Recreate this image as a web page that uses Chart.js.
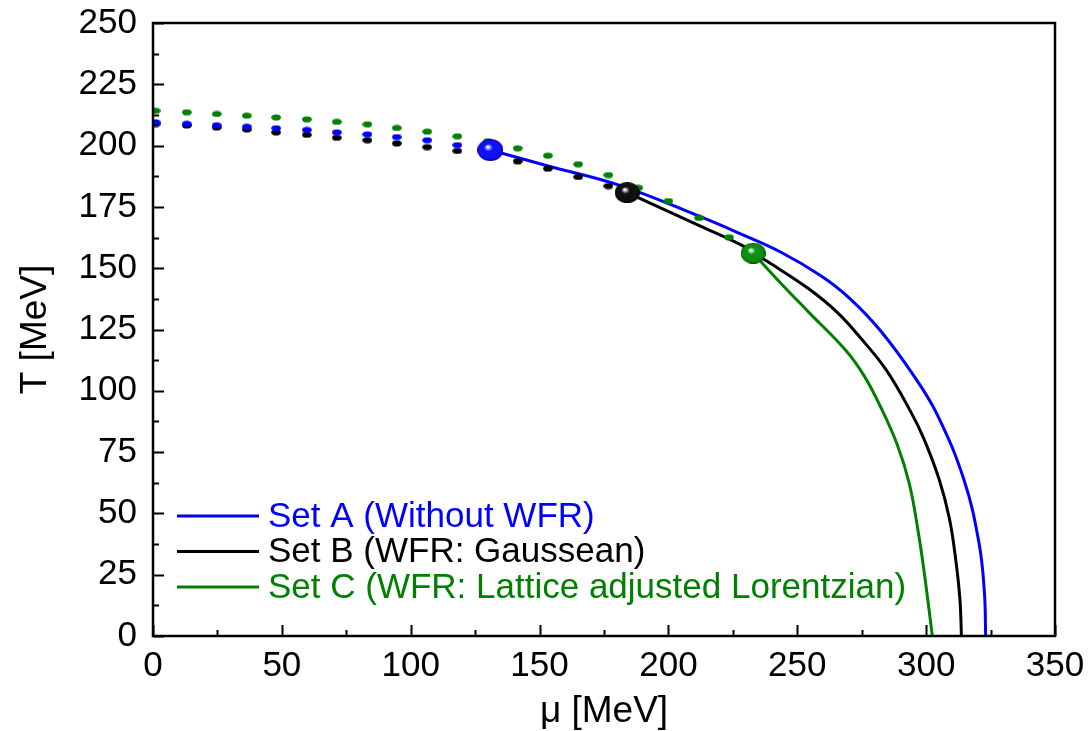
<!DOCTYPE html>
<html>
<head>
<meta charset="utf-8">
<script src="https://cdn.jsdelivr.net/npm/chart.js@4.4.0/dist/chart.umd.min.js"></script>
<style>
  html, body { margin: 0; padding: 0; background: #fff; }
</style>
</head>
<body>
<canvas id="fasgraf" width="1091" height="731"></canvas>
<script>
// namn på serierna (legenden)
const seriesNames = [
  "Set A (Without WFR)",
  "Set B (WFR: Gaussean)",
  "Set C (WFR: Lattice adjusted Lorentzian)"
];
const seriesColors = ["#0000ff", "#000000", "#008000"];

// axlarna
const xTicks = [0, 50, 100, 150, 200, 250, 300, 350];
const yTicks = [0, 25, 50, 75, 100, 125, 150, 175, 200, 225, 250];

// prickade kurvor (crossover), samma mu för alla tre
const muDots = [1, 13.1, 24.7, 36.4, 47.8, 59.7, 71.3, 83.2, 94.6, 106.4, 118.1, 130.0, 141.5, 153.2, 165.0, 176.7, 188.3, 200.0, 211.9, 223.5];
const tBlueDots = [209.5, 208.9, 208.3, 207.7, 207.1, 206.4, 205.4, 204.6, 203.5, 202.2, 200.2];
const tBlackDots = [208.8, 208.2, 207.4, 206.6, 205.4, 204.4, 203.2, 202.2, 200.9, 199.4, 197.8, 195.8, 193.6, 190.6, 187.2, 183.5];
const tGreenDots = [214.2, 213.6, 212.9, 212.2, 211.5, 210.7, 209.7, 208.7, 207.2, 205.7, 203.8, 201.8, 198.9, 195.9, 192.4, 188.0, 182.8, 177.4, 170.5, 162.6];

// heldragna kurvor (första ordningens övergång)
const muBlueLine = [130.9, 153.3, 181.4, 212.4, 228.0, 243.5, 259.0, 270.0, 282.3, 295.3, 304.3, 314.7, 320.5, 322.6, 323.1];
const tBlueLine = [198.2, 191.7, 183.7, 171.0, 164.0, 156.6, 147.0, 138.0, 124.5, 106.0, 90.3, 63.6, 38.0, 18.0, 0];
const muBlackLine = [184.0, 212.4, 228.0, 238.3, 253.9, 265.5, 275.0, 284.5, 294.0, 299.1, 305.0, 309.0, 311.5, 313.1, 313.7];
const tBlackLine = [180.8, 167.2, 159.6, 152.8, 142.0, 132.0, 121.0, 108.5, 91.5, 80.5, 64.0, 48.0, 31.0, 15.0, 0];
const muGreenLine = [232.9, 243.5, 254.5, 268.7, 276.0, 282.3, 288.8, 293.5, 297.0, 299.5, 302.4];
const tGreenLine = [156.1, 144.0, 132.0, 116.6, 106.0, 93.5, 78.0, 62.0, 42.0, 24.0, 0];

// kritiska punkter
const muCrit = [130.9, 184.0, 232.9];
const tCrit = [198.2, 180.8, 156.1];

const typsnitt = '"Liberation Sans", Arial, sans-serif';

// gör om två listor till {x, y}
const par = (xs, ys) => ys.map((t, i) => ({ x: xs[i], y: t }));

// kula med glans (lite bredare än hög, som i originalet)
function kula(farg, mork, rx, ry) {
  const c = document.createElement('canvas');
  c.width = Math.round(rx * 2);
  c.height = Math.round(ry * 2);
  const g = c.getContext('2d');
  g.save();
  g.scale(rx / ry, 1);
  const r = ry;
  const grad = g.createRadialGradient(r * 0.8, r * 0.7, r * 0.05, r, r, r);
  grad.addColorStop(0, '#ffffff');
  grad.addColorStop(0.3, farg);
  grad.addColorStop(0.8, farg);
  grad.addColorStop(1, mork);
  g.fillStyle = grad;
  g.beginPath();
  g.arc(r, r, r, 0, Math.PI * 2);
  g.fill();
  g.restore();
  return c;
}

// liten oval prick
function prick(farg) {
  const c = document.createElement('canvas');
  c.width = 10;
  c.height = 7;
  const g = c.getContext('2d');
  g.fillStyle = farg;
  g.beginPath();
  g.ellipse(5, 3.5, 4.8, 3.1, 0, 0, Math.PI * 2);
  g.fill();
  return c;
}

const kulor = [
  kula('#1010ff', '#00008a', 13, 11),
  kula('#101010', '#000000', 12.5, 10.5),
  kula('#0f8f0f', '#04500a', 12.5, 10.5)
];

function linje(i, mu, t, ordning) {
  return {
    label: seriesNames[i],
    data: par(mu, t),
    borderColor: seriesColors[i],
    borderWidth: 3,
    pointRadius: 0,
    showLine: true,
    fill: false,
    tension: 0.4,
    order: ordning
  };
}

function prickar(i, t, ordning) {
  return {
    label: seriesNames[i] + ' dots',
    data: par(muDots, t),
    showLine: false,
    pointStyle: prick(seriesColors[i]),
    pointRadius: 4,
    order: ordning
  };
}

const datasets = [
  linje(0, muBlueLine, tBlueLine, 6),
  linje(1, muBlackLine, tBlackLine, 5),
  linje(2, muGreenLine, tGreenLine, 4),
  prickar(0, tBlueDots, 2),
  prickar(1, tBlackDots, 3),
  prickar(2, tGreenDots, 1)
];
muCrit.forEach((m, i) => {
  datasets.push({
    label: 'crit ' + i,
    data: [{ x: m, y: tCrit[i] }],
    showLine: false,
    pointStyle: kulor[i],
    pointRadius: 12,
    order: 0
  });
});

// ram + inåtvända streck på x- och y-axeln
const ramPlugin = {
  id: 'ram',
  afterDatasetsDraw(chart) {
    const { ctx, chartArea: a, scales: { x, y } } = chart;
    ctx.save();
    ctx.strokeStyle = '#000';
    ctx.lineWidth = 2;
    ctx.beginPath();
    xTicks.forEach((v, i) => {
      const px = Math.round(x.getPixelForValue(v)) + 0.5;
      ctx.moveTo(px, a.bottom);
      ctx.lineTo(px, a.bottom - 11);
      if (i < xTicks.length - 1) {
        const mx = Math.round(x.getPixelForValue((v + xTicks[i + 1]) / 2)) + 0.5;
        ctx.moveTo(mx, a.bottom);
        ctx.lineTo(mx, a.bottom - 6);
      }
    });
    yTicks.forEach((v, i) => {
      const py = Math.round(y.getPixelForValue(v)) + 0.5;
      ctx.moveTo(a.left, py);
      ctx.lineTo(a.left + 11, py);
      if (i < yTicks.length - 1) {
        const my = Math.round(y.getPixelForValue((v + yTicks[i + 1]) / 2)) + 0.5;
        ctx.moveTo(a.left, my);
        ctx.lineTo(a.left + 6, my);
      }
    });
    ctx.stroke();
    ctx.lineWidth = 2.5;
    ctx.strokeRect(a.left, a.top, a.right - a.left, a.bottom - a.top);
    ctx.restore();
  }
};

// legenden ligger inne i diagrammet, nere till vänster
const legendPlugin = {
  id: 'egenLegend',
  afterDraw(chart) {
    const { ctx, chartArea: a } = chart;
    ctx.save();
    ctx.font = '35px ' + typsnitt;
    ctx.textBaseline = 'middle';
    seriesNames.forEach((namn, i) => {
      const yy = a.bottom - 120 + i * 35.5;
      ctx.strokeStyle = seriesColors[i];
      ctx.lineWidth = 3;
      ctx.beginPath();
      ctx.moveTo(a.left + 24, yy);
      ctx.lineTo(a.left + 106, yy);
      ctx.stroke();
      ctx.fillStyle = seriesColors[i];
      ctx.fillText(namn, a.left + 115, yy + 1);
    });
    ctx.restore();
  }
};

const ctx = document.getElementById('fasgraf').getContext('2d');

new Chart(ctx, {
  type: 'scatter',
  data: { datasets },
  options: {
    responsive: false,
    animation: false,
    layout: { padding: { left: 0, right: 36, top: 23, bottom: 0 } },
    plugins: {
      legend: { display: false },
      tooltip: { enabled: false }
    },
    scales: {
      x: {
        type: 'linear',
        min: 0,
        max: 350,
        afterBuildTicks(s) { s.ticks = xTicks.map(v => ({ value: v })); },
        ticks: { color: '#000', font: { size: 35, family: typsnitt }, padding: 9, maxRotation: 0 },
        grid: { display: false, drawTicks: false },
        border: { display: false },
        title: { display: true, text: 'μ [MeV]', color: '#000', font: { size: 37, family: typsnitt, lineHeight: 1 }, padding: { top: 0, bottom: 1 } },
        afterFit(s) { s.height = 95; s.paddingLeft = 0; s.paddingRight = 0; }
      },
      y: {
        type: 'linear',
        min: 0,
        max: 250,
        afterBuildTicks(s) { s.ticks = yTicks.map(v => ({ value: v })); },
        ticks: { color: '#000', font: { size: 35, family: typsnitt }, padding: 16 },
        grid: { display: false, drawTicks: false },
        border: { display: false },
        title: { display: true, text: 'T [MeV]', color: '#000', font: { size: 37, family: typsnitt, lineHeight: 1 }, padding: { top: 17, bottom: 0 } },
        afterFit(s) { s.width = 153; s.paddingTop = 0; s.paddingBottom = 0; }
      }
    }
  },
  plugins: [ramPlugin, legendPlugin]
});
</script>
</body>
</html>
